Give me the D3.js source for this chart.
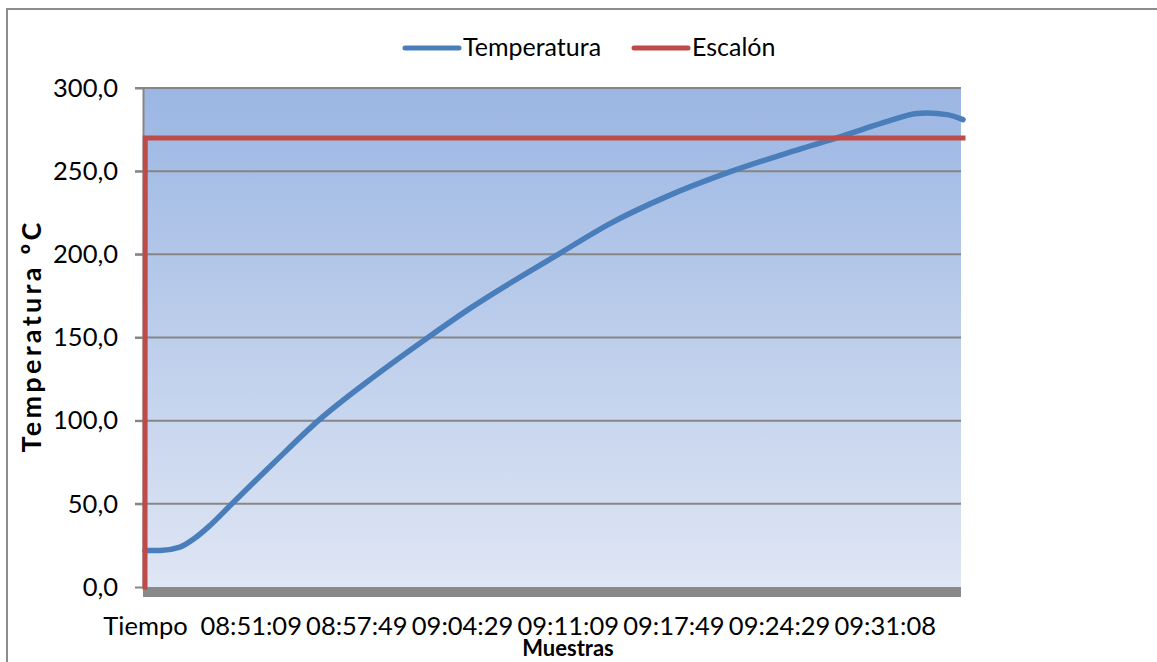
<!DOCTYPE html>
<html>
<head>
<meta charset="utf-8">
<script src="https://cdn.jsdelivr.net/npm/d3@7"></script>
<style>
  html, body { margin: 0; padding: 0; background: #ffffff; }
  svg { display: block; font-family: Lato, "Open Sans", sans-serif; }
</style>
</head>
<body>
<svg id="chart" width="1157" height="662"></svg>
<script>
// Sample index (1 sample per second) and measured temperature, ºC
const sampleIndex = [0, 57, 132, 189, 246, 329, 486, 656, 863, 1071, 1230, 1564, 1760, 1978, 2221, 2453, 2618, 2714, 2831, 2914, 2960, 3036, 3096];
const temperatura = [22, 22, 24, 29.4, 37, 50, 74.4, 100, 126, 150, 167.5, 200, 218.5, 235, 250, 262, 270, 275, 281, 284.5, 285, 284, 281];

// Step setpoint series
const escalonIndex = [0, 1, 3096];
const escalon = [0, 270, 270];

// Axis ticks
const yTicks = [0, 50, 100, 150, 200, 250, 300];
const xTickIndex = [0, 400, 800, 1200, 1600, 2000, 2400, 2800];
const xTickLabels = ["Tiempo", "08:51:09", "08:57:49", "09:04:29", "09:11:09", "09:17:49", "09:24:29", "09:31:08"];

const seriesNames = ["Temperatura", "Escalón"];
const seriesColors = ["#4A7EBB", "#BE4B48"];

const svg = d3.select("#chart");
const plot = { left: 144, right: 961, top: 88, bottom: 587 };

// Outer chart frame
svg.append("rect")
  .attr("x", 7).attr("y", 9)
  .attr("width", 1200).attr("height", 700)
  .attr("fill", "#ffffff")
  .attr("stroke", "#8c8c8c").attr("stroke-width", 2);

// Plot background gradient
const defs = svg.append("defs");
const grad = defs.append("linearGradient")
  .attr("id", "plotBg").attr("x1", 0).attr("y1", 0).attr("x2", 0).attr("y2", 1);
grad.append("stop").attr("offset", "0%").attr("stop-color", "#9bb6e3");
grad.append("stop").attr("offset", "100%").attr("stop-color", "#dfe6f4");

svg.append("rect")
  .attr("x", plot.left).attr("y", plot.top)
  .attr("width", plot.right - plot.left).attr("height", plot.bottom - plot.top)
  .attr("fill", "url(#plotBg)");

const x = d3.scaleLinear().domain([0, 3096]).range([plot.left + 1, plot.right + 2]);
const y = d3.scaleLinear().domain([0, 300]).range([plot.bottom, plot.top]);

const locale = d3.formatLocale({ decimal: ",", thousands: ".", grouping: [3], currency: ["", "€"] });
const fmt = locale.format(".1f");

// Horizontal gridlines
svg.append("g")
  .selectAll("line")
  .data(yTicks.filter(d => d > 0))
  .join("line")
  .attr("x1", plot.left - 9).attr("x2", plot.right)
  .attr("y1", d => y(d)).attr("y2", d => y(d))
  .attr("stroke", "#868686").attr("stroke-width", 2);

// Floor band under the plot
svg.append("rect")
  .attr("x", plot.left - 1).attr("y", plot.bottom)
  .attr("width", plot.right - plot.left + 1).attr("height", 10)
  .attr("fill", "#898989");

// Y axis
const yAxis = svg.append("g")
  .attr("transform", `translate(${plot.left},0)`)
  .call(d3.axisLeft(y).tickValues(yTicks).tickFormat(fmt).tickSize(9).tickPadding(17));
yAxis.select(".domain").remove();
yAxis.selectAll(".tick line").attr("stroke", "#868686").attr("stroke-width", 2);
yAxis.selectAll(".tick text").attr("font-size", 25.5).attr("fill", "#000").attr("font-family", "Lato");

svg.append("line")
  .attr("x1", plot.left - 0.5).attr("x2", plot.left - 0.5)
  .attr("y1", plot.top).attr("y2", plot.bottom)
  .attr("stroke", "#868686").attr("stroke-width", 2);

// X axis labels
const xAxis = svg.append("g")
  .attr("transform", `translate(0,${plot.bottom + 10})`)
  .call(d3.axisBottom(x).tickValues(xTickIndex).tickFormat((d, i) => xTickLabels[i]).tickSize(0).tickPadding(20));
xAxis.select(".domain").remove();
xAxis.selectAll(".tick text").attr("font-size", 25.5).attr("fill", "#000").attr("font-family", "Lato");

// Series lines
const line = d3.line().x(d => x(d[0])).y(d => y(d[1]));

svg.append("path")
  .datum(sampleIndex.map((d, i) => [d, temperatura[i]]))
  .attr("d", line.curve(d3.curveMonotoneX))
  .attr("fill", "none")
  .attr("stroke", seriesColors[0]).attr("stroke-width", 5.5)
  .attr("stroke-linecap", "round").attr("stroke-linejoin", "round");

const stepLine = d3.line().x(d => x(d[0])).y(d => y(d[1]));
svg.append("path")
  .datum(escalonIndex.map((d, i) => [d, escalon[i]]))
  .attr("d", stepLine)
  .attr("fill", "none")
  .attr("stroke", seriesColors[1]).attr("stroke-width", 5)
  .attr("stroke-linecap", "square").attr("stroke-linejoin", "miter");

// Legend
const legendX = [405, 634];
const legend = svg.append("g");
seriesNames.forEach((name, i) => {
  legend.append("line")
    .attr("x1", legendX[i]).attr("x2", legendX[i] + 54)
    .attr("y1", 48).attr("y2", 48)
    .attr("stroke", seriesColors[i]).attr("stroke-width", 5)
    .attr("stroke-linecap", "round");
  legend.append("text")
    .attr("x", legendX[i] + 58).attr("y", 56)
    .attr("font-size", 25).attr("fill", "#000")
    .text(name);
});

// Axis titles
svg.append("text")
  .attr("transform", `translate(41,${(plot.top + plot.bottom) / 2}) rotate(-90)`)
  .attr("text-anchor", "middle")
  .attr("font-size", 27).attr("font-weight", "bold").attr("fill", "#000")
  .attr("textLength", 230).attr("lengthAdjust", "spacing")
  .text("Temperatura ºC");

svg.append("text")
  .attr("x", 568).attr("y", 656)
  .attr("text-anchor", "middle")
  .attr("font-size", 22).attr("font-weight", "bold").attr("fill", "#000")
  .text("Muestras");
</script>
</body>
</html>
